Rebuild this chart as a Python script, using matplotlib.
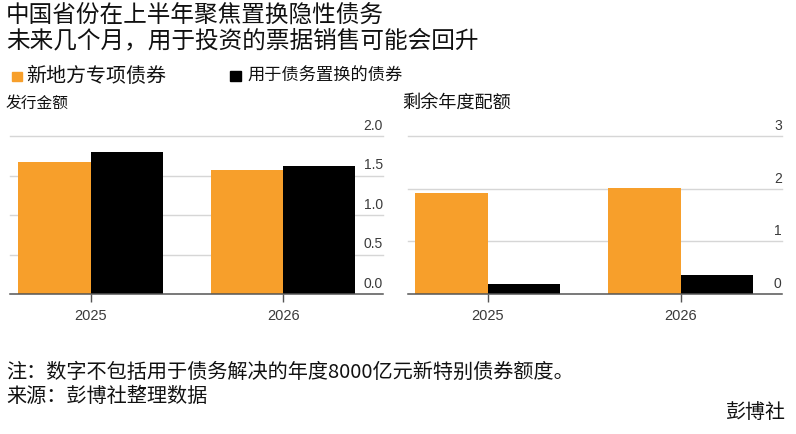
import matplotlib
matplotlib.use("Agg")
import matplotlib.pyplot as plt
from matplotlib.patches import Rectangle
import numpy as np

plt.rcParams['font.family'] = ['Noto Sans CJK SC', 'DejaVu Sans']

# ---- data ----
categories = ['2025', '2026']
issued_new = [1.678, 1.576]        # 新地方专项债券 发行金额
issued_swap = [1.797, 1.62]        # 用于债务置换的债券 发行金额
quota_new = [1.915, 2.016]         # 新地方专项债券 剩余年度配额
quota_swap = [0.196, 0.367]        # 用于债务置换的债券 剩余年度配额
left_ticks = [0.0, 0.5, 1.0, 1.5, 2.0]
left_ticklabels = ['0.0', '0.5', '1.0', '1.5', '2.0']
right_ticks = [0, 1, 2, 3]
right_ticklabels = ['0', '1', '2', '3']

title1 = '中国省份在上半年聚焦置换隐性债务'
title2 = '未来几个月，用于投资的票据销售可能会回升'
legend_labels = ['新地方专项债券', '用于债务置换的债券']
sub_left = '发行金额'
sub_right = '剩余年度配额'
note1 = '注：数字不包括用于债务解决的年度8000亿元新特别债券额度。'
note2 = '来源：彭博社整理数据'
brand = '彭博社'

ORANGE = '#F79F2B'
BLACK = '#000000'
GRID = '#d6d6d6'
AXIS = '#555555'
TICKC = '#3a3a3a'

W, H = 796, 435
fig = plt.figure(figsize=(W / 100, H / 100), dpi=100)

def fx(px):
    return px / W

def fy(py):
    return 1 - py / H

num_font = ['Liberation Sans', 'DejaVu Sans']

def draw_panel(rect, new_vals, swap_vals, ticks, ticklabels, xlim):
    ax = fig.add_axes(rect)
    x = np.arange(len(categories))
    w = 0.375
    ax.bar(x - w / 2, new_vals, width=w, color=ORANGE, zorder=3, linewidth=0)
    ax.bar(x + w / 2, swap_vals, width=w, color=BLACK, zorder=3, linewidth=0)
    ax.set_xlim(*xlim)
    ax.set_ylim(ticks[0], ticks[-1])
    for t, lab in zip(ticks, ticklabels):
        if t == ticks[0]:
            ax.axhline(t, color=AXIS, lw=1.1, zorder=4, clip_on=False)
        else:
            ax.axhline(t, color=GRID, lw=1.0, zorder=1, clip_on=False)
        ax.annotate(lab, xy=(1.0, t), xycoords=('axes fraction', 'data'),
                    xytext=(0, 5.3), textcoords='offset points',
                    ha='right', va='baseline', fontsize=10, color=TICKC,
                    family=num_font, annotation_clip=False)
    for s in ax.spines.values():
        s.set_visible(False)
    ax.set_yticks([])
    ax.set_xticks(x)
    ax.set_xticklabels(categories, family=num_font, fontsize=10.5, color=TICKC)
    ax.tick_params(axis='x', length=5.8, width=1.0, color=AXIS, pad=4)
    ax.patch.set_alpha(0)
    return ax

bottom = fy(295)
height = (295 - 137.3) / H
draw_panel([fx(10), bottom, (383 - 10) / W, height],
           issued_new, issued_swap, left_ticks, left_ticklabels, (-0.419, 1.518))
draw_panel([fx(407.7), bottom, (781.7 - 407.7) / W, height],
           quota_new, quota_swap, right_ticks, right_ticklabels, (-0.415, 1.523))

# titles
fig.text(fx(6), fy(15), title1, fontsize=17, va='center', ha='left', color='#111111')
fig.text(fx(6), fy(41), title2, fontsize=17, va='center', ha='left', color='#111111')

# legend
fig.patches.append(Rectangle((fx(11.5), fy(82)), 10.5 / W, 9.5 / H,
                             transform=fig.transFigure, color=ORANGE, figure=fig))
fig.text(fx(26), fy(76.5), legend_labels[0], fontsize=14.4, va='center', ha='left', color='#111111')
fig.patches.append(Rectangle((fx(230), fy(82)), 11 / W, 10 / H,
                             transform=fig.transFigure, color=BLACK, figure=fig))
fig.text(fx(247.5), fy(75.5), legend_labels[1], fontsize=12.4, va='center', ha='left', color='#111111')

# subtitles
fig.text(fx(6), fy(103.3), sub_left, fontsize=11.3, va='center', ha='left', color='#111111')
fig.text(fx(402.5), fy(104), sub_right, fontsize=13.1, va='center', ha='left', color='#111111')

# notes
fig.text(fx(6), fy(372), note1, fontsize=14.5, va='center', ha='left', color='#111111')
fig.text(fx(6), fy(396.7), note2, fontsize=14.5, va='center', ha='left', color='#111111')
fig.text(fx(786), fy(413), brand, fontsize=14.4, va='center', ha='right', color='#111111')

fig.savefig('out.png', dpi=100)
